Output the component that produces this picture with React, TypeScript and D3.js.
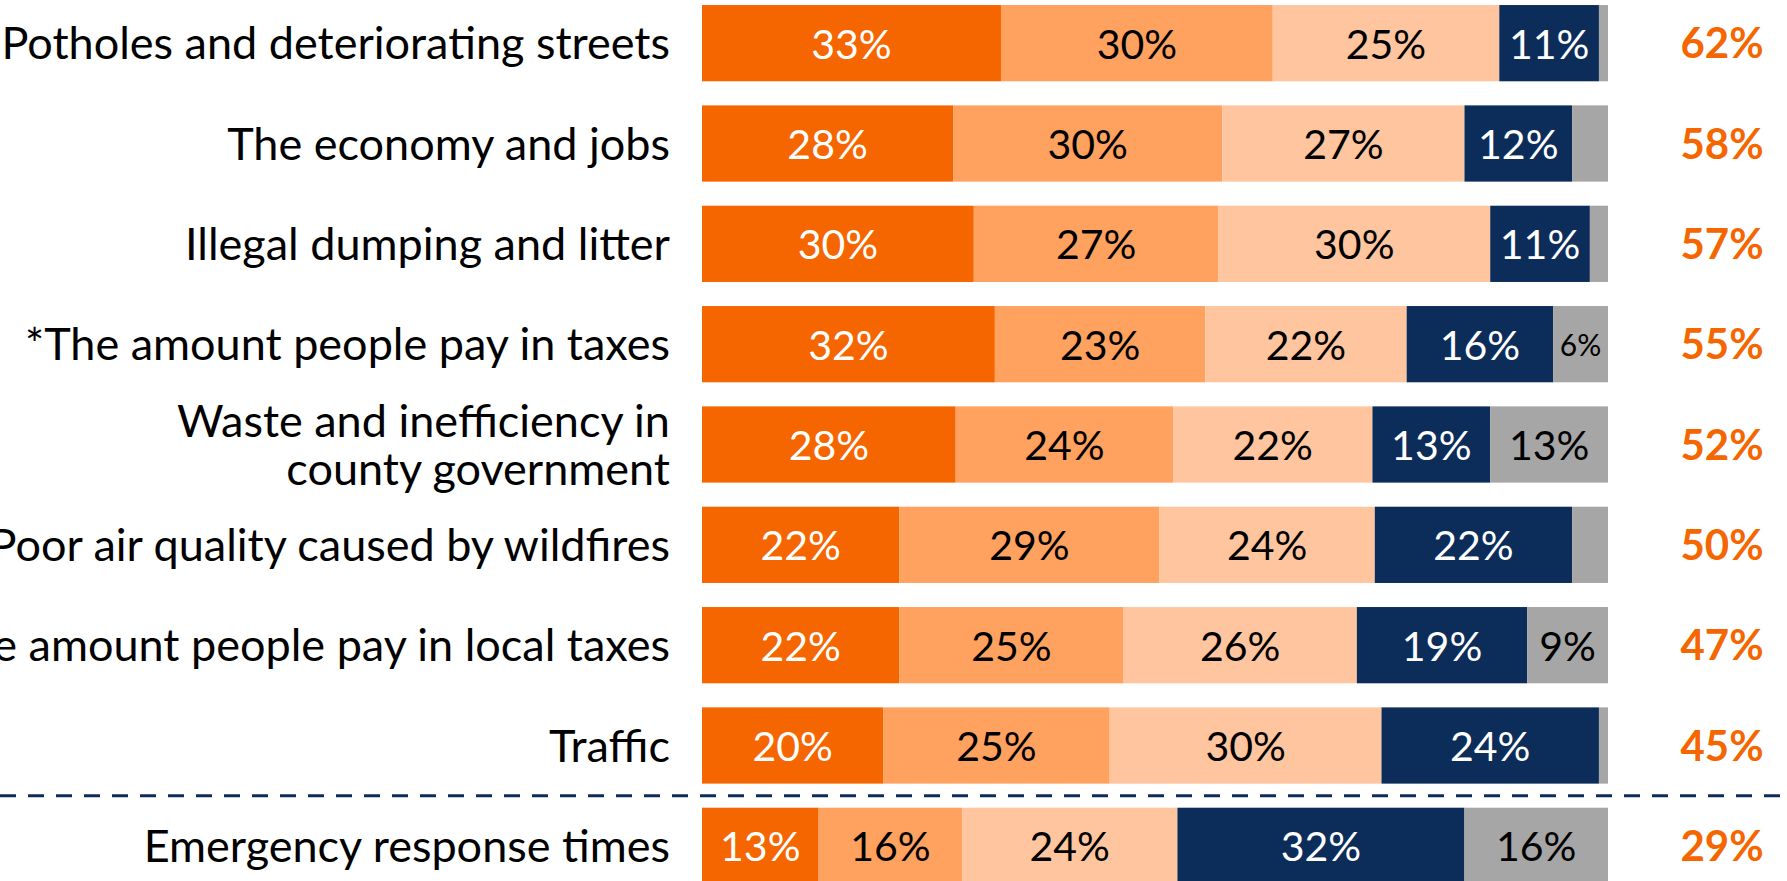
import * as d3 from "d3";
import { useEffect, useRef } from "react";

const categories = [
  "Potholes and deteriorating streets",
  "The economy and jobs",
  "Illegal dumping and litter",
  "*The amount people pay in taxes",
  "Waste and inefficiency in|county government",
  "Poor air quality caused by wildfires",
  "*The amount people pay in local taxes",
  "Traffic",
  "Emergency response times",
];

// segments per row: very, somewhat, a little, not a problem, don't know
const verySerious = [33, 28, 30, 32, 28, 22, 22, 20, 13];
const somewhatSerious = [30, 30, 27, 23, 24, 29, 25, 25, 16];
const littleSerious = [25, 27, 30, 22, 22, 24, 26, 30, 24];
const notProblem = [11, 12, 11, 16, 13, 22, 19, 24, 32];
const dontKnow = [1, 4, 2, 6, 13, 4, 9, 1, 16];
const totalSerious = [62, 58, 57, 55, 52, 50, 47, 45, 29];

// only show labels on gray segments when wide enough
const showGrayLabel = [false, false, false, true, true, false, true, false, true];

const seriesColors = ["#F56600", "#FFA15F", "#FFC59F", "#0C2D5A", "#A6A6A6"];
const textColors = ["#ffffff", "#000000", "#000000", "#ffffff", "#000000"];

const W = 1787;
const H = 881;
const font = "Lato, 'Open Sans', sans-serif";

export default function App() {
  const svgRef = useRef<SVGSVGElement>(null);

  useEffect(() => {
    if (!svgRef.current) return;
    const svg = d3.select(svgRef.current);
    svg.selectAll("*").remove();

    const series = [verySerious, somewhatSerious, littleSerious, notProblem, dontKnow];

    const yScale = d3.scaleBand<number>()
      .domain(d3.range(categories.length))
      .range([-7, 896])
      .paddingInner(0.24)
      .paddingOuter(0.12);

    const xScale = d3.scaleLinear().domain([0, 1]).range([702, 1608]);

    const rows = categories.map((cat, i) => {
      const vals = series.map((s) => s[i]);
      const total = d3.sum(vals);
      let cum = 0;
      const segs = vals.map((v, k) => {
        const start = cum / total;
        cum += v;
        return { k, v, start, end: cum / total };
      });
      return { cat, i, segs };
    });

    const g = svg.append("g");

    rows.forEach((row) => {
      const y0 = yScale(row.i) ?? 0;
      const bh = yScale.bandwidth();
      const rowG = g.append("g");

      rowG.selectAll("rect")
        .data(row.segs)
        .join("rect")
        .attr("x", (d) => xScale(d.start))
        .attr("y", y0)
        .attr("width", (d) => xScale(d.end) - xScale(d.start))
        .attr("height", bh)
        .attr("fill", (d) => seriesColors[d.k]);

      rowG.selectAll("text.seg")
        .data(row.segs.filter((d) => d.k < 4 || showGrayLabel[row.i]))
        .join("text")
        .attr("class", "seg")
        .attr("x", (d) => (xScale(d.start) + xScale(d.end)) / 2)
        .attr("y", y0 + bh / 2)
        .attr("dy", "0.38em")
        .attr("text-anchor", "middle")
        .attr("font-family", font)
        .attr("font-size", (d) => (d.v < 8 ? 30 : 41))
        .attr("fill", (d) => textColors[d.k])
        .text((d) => `${d.v}%`);

      // category label on the left, may wrap to two lines
      const lines = row.cat.split("|");
      const label = rowG.append("text")
        .attr("x", 670)
        .attr("y", y0 + bh / 2)
        .attr("text-anchor", "end")
        .attr("font-family", font)
        .attr("font-size", 45)
        .attr("fill", "#000");
      lines.forEach((ln, j) => {
        label.append("tspan")
          .attr("x", 670)
          .attr("dy", j === 0 ? `${0.36 - (lines.length - 1) * 0.53}em` : "1.06em")
          .text(ln);
      });

      // total serious on the right
      rowG.append("text")
        .attr("x", 1722)
        .attr("y", y0 + bh / 2)
        .attr("dy", "0.36em")
        .attr("text-anchor", "middle")
        .attr("font-family", font)
        .attr("font-weight", "bold")
        .attr("font-size", 42)
        .attr("fill", "#F56600")
        .text(`${totalSerious[row.i]}%`);
    });

    // dashed separator before the last row
    const sepY = ((yScale(7) ?? 0) + yScale.bandwidth() + (yScale(8) ?? 0)) / 2;
    svg.append("line")
      .attr("x1", 0)
      .attr("x2", W)
      .attr("y1", sepY)
      .attr("y2", sepY)
      .attr("stroke", "#0C2D5A")
      .attr("stroke-width", 3)
      .attr("stroke-dasharray", "16 12");
  }, []);

  return (
    <div style={{ position: "fixed", left: 0, top: 0 }}>
      <svg ref={svgRef} width={W} height={H} style={{ display: "block", background: "#fff" }}></svg>
    </div>
  );
}
